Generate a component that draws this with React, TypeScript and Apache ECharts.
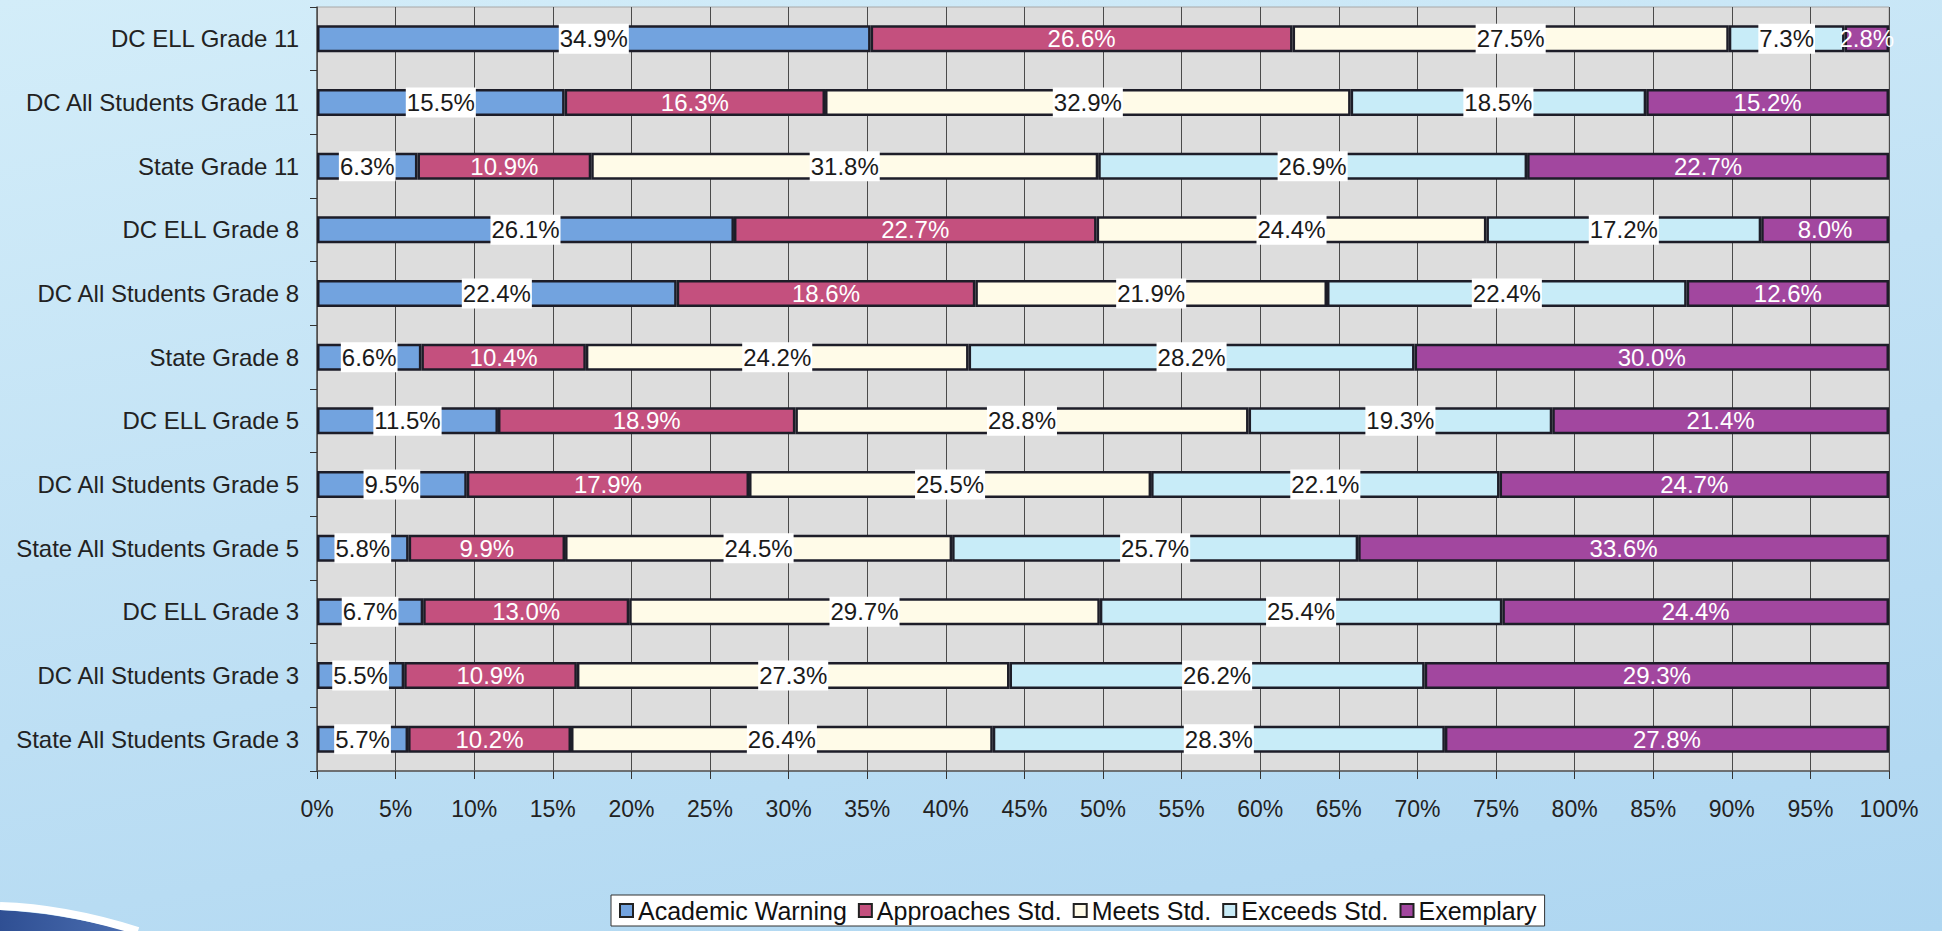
import React, { useEffect, useRef } from "react";
import * as echarts from "echarts";

const categories = [
  "DC ELL Grade 11",
  "DC All Students Grade 11",
  "State Grade 11",
  "DC ELL Grade 8",
  "DC All Students Grade 8",
  "State Grade 8",
  "DC ELL Grade 5",
  "DC All Students Grade 5",
  "State All Students Grade 5",
  "DC ELL Grade 3",
  "DC All Students Grade 3",
  "State All Students Grade 3",
];

const seriesNames = ["Academic Warning", "Approaches Std.", "Meets Std.", "Exceeds Std.", "Exemplary"];

const academicWarning = [34.9, 15.5, 6.3, 26.1, 22.4, 6.6, 11.5, 9.5, 5.8, 6.7, 5.5, 5.7];
const approachesStd = [26.6, 16.3, 10.9, 22.7, 18.6, 10.4, 18.9, 17.9, 9.9, 13.0, 10.9, 10.2];
const meetsStd = [27.5, 32.9, 31.8, 24.4, 21.9, 24.2, 28.8, 25.5, 24.5, 29.7, 27.3, 26.4];
const exceedsStd = [7.3, 18.5, 26.9, 17.2, 22.4, 28.2, 19.3, 22.1, 25.7, 25.4, 26.2, 28.3];
const exemplary = [2.8, 15.2, 22.7, 8.0, 12.6, 30.0, 21.4, 24.7, 33.6, 24.4, 29.3, 27.8];

const xTicks = [0, 5, 10, 15, 20, 25, 30, 35, 40, 45, 50, 55, 60, 65, 70, 75, 80, 85, 90, 95, 100];

const colors = ["#72a3df", "#c4507e", "#fffbe8", "#c8ecf8", "#a2479f"];

const FONT = "'Liberation Sans', Arial, sans-serif";

export default function App() {
  const ref = useRef<HTMLDivElement>(null);

  useEffect(() => {
    if (!ref.current) return;
    const chart = echarts.init(ref.current, undefined, { renderer: "svg" });

    const raw = [academicWarning, approachesStd, meetsStd, exceedsStd, exemplary];
    const totals = categories.map((_, i) => raw.reduce((s, arr) => s + arr[i], 0));

    const darkLabel = {
      show: true,
      position: "inside",
      color: "#1a1a1a",
      fontSize: 24,
      fontFamily: FONT,
      backgroundColor: "#ffffff",
      padding: [4, 1, 2, 1],
    };
    const lightLabel = {
      show: true,
      position: "inside",
      color: "#ffffff",
      fontSize: 24,
      fontFamily: FONT,
    };

    const series = raw.map((arr, si) => ({
      name: seriesNames[si],
      type: "bar",
      stack: "total",
      barWidth: 27,
      data: arr.map((v, i) => (v / totals[i]) * 100),
      itemStyle: { color: colors[si], borderColor: "#1d1d28", borderWidth: 2.5 },
      label: {
        ...(si === 1 || si === 4 ? lightLabel : darkLabel),
        formatter: (p: any) => raw[si][p.dataIndex].toFixed(1) + "%",
      },
    }));

    // swoosh decoration (bottom-left corner of the slide)
    echarts.graphic.registerShape(
      "swoosh",
      echarts.graphic.extendPath("M0,910 Q60,913 128,931 L0,931 Z", {})
    );

    chart.setOption({
      animation: false,
      backgroundColor: "transparent",
      grid: {
        left: 317,
        right: 53,
        top: 7,
        bottom: 160,
        show: true,
        backgroundColor: "#dddddd",
        borderColor: "#a8a8a8",
        borderWidth: 1,
      },
      xAxis: {
        type: "value",
        min: 0,
        max: 100,
        interval: 5,
        axisLine: { show: true, lineStyle: { color: "#555", width: 1.5 } },
        axisTick: { show: true, length: 8, lineStyle: { color: "#333" } },
        splitLine: { show: true, lineStyle: { color: "#4a4a4a", width: 1 } },
        axisLabel: {
          formatter: (v: number) => (xTicks.includes(v) ? v + "%" : ""),
          color: "#222",
          fontSize: 23,
          fontFamily: FONT,
          margin: 26,
        },
      },
      yAxis: {
        type: "category",
        inverse: true,
        data: categories,
        axisLine: { show: true, lineStyle: { color: "#555", width: 1.5 } },
        axisTick: { show: true, length: 7, lineStyle: { color: "#333" } },
        axisLabel: {
          color: "#222",
          fontSize: 24,
          fontFamily: FONT,
          margin: 18,
        },
      },
      legend: {
        left: 611,
        top: 895,
        orient: "horizontal",
        icon: "rect",
        itemWidth: 13,
        itemHeight: 13,
        itemGap: 11,
        padding: [3, 8, 3, 8],
        backgroundColor: "#ffffff",
        borderColor: "#333",
        borderWidth: 1,
        borderRadius: 0,
        textStyle: { color: "#111", fontSize: 25, fontFamily: FONT },
        itemStyle: { borderColor: "#222", borderWidth: 2 },
        data: seriesNames,
      },
      graphic: [
        {
          type: "swoosh",
          z: -1,
          silent: true,
          style: {
            fill: new echarts.graphic.LinearGradient(0, 0, 1, 0, [
              { offset: 0, color: "#2f4f93" },
              { offset: 1, color: "#4a6db0" },
            ]),
          },
        },
        {
          type: "bezierCurve",
          silent: true,
          shape: { x1: 0, y1: 906, x2: 138, y2: 931, cpx1: 65, cpy1: 908 },
          style: { stroke: "#ffffff", lineWidth: 8, fill: "none" },
        },
      ],
      series,
    });

    return () => chart.dispose();
  }, []);

  return (
    <div
      style={{
        position: "absolute",
        left: 0,
        top: 0,
        width: 1942,
        height: 931,
        background: "linear-gradient(170deg, #d3edf9 0%, #c2e2f5 45%, #aed6f1 100%)",
        overflow: "hidden",
      }}
    >
      <div ref={ref} style={{ width: 1942, height: 931 }} />
    </div>
  );
}
